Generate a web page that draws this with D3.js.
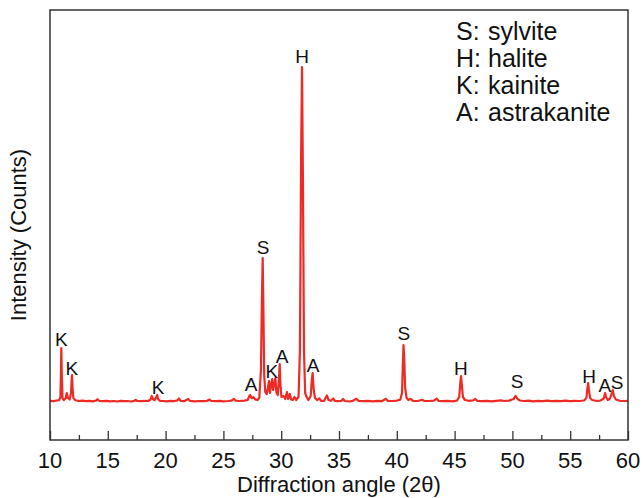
<!DOCTYPE html>
<html>
<head>
<meta charset="utf-8">
<script src="https://cdn.jsdelivr.net/npm/d3@7"></script>
<style>
  body { margin: 0; background: #fff; }
  text { font-family: "Liberation Sans", Arial, sans-serif; fill: #111; }
</style>
</head>
<body>
<div id="chart"></div>
<script>
// XRD trace: [2theta, counts]
const trace = [
  [10.0,392],[10.3,388],[10.6,395],[10.8,398],[10.9,430],[10.95,700],[10.98,920],[11.02,650],[11.08,420],
  [11.2,400],[11.35,415],[11.45,470],[11.55,420],[11.7,405],[11.82,470],[11.87,600],[11.9,650],[11.95,520],
  [12.02,420],[12.2,398],[12.5,390],[12.8,394],[13.1,388],[13.4,392],[13.7,386],[14.0,395],[14.1,408],
  [14.25,392],[14.6,388],[14.9,392],[15.2,386],[15.5,390],[15.8,385],[16.1,392],[16.4,388],[16.7,390],
  [17.0,385],[17.3,392],[17.4,402],[17.55,390],[17.9,388],[18.2,392],[18.5,390],[18.7,405],[18.8,440],
  [18.9,410],[19.05,398],[19.2,430],[19.27,450],[19.35,410],[19.5,392],[19.8,390],[20.1,386],[20.4,392],
  [20.7,388],[21.0,395],[21.15,415],[21.3,392],[21.6,388],[21.95,410],[22.1,392],[22.5,386],[22.9,390],
  [23.2,388],[23.6,392],[23.8,405],[23.95,390],[24.3,388],[24.7,392],[25.0,386],[25.4,390],[25.7,394],
  [25.9,412],[26.05,394],[26.4,390],[26.8,394],[27.1,400],[27.25,440],[27.32,450],[27.45,418],[27.6,428],
  [27.75,405],[27.95,400],[28.1,420],[28.25,700],[28.33,1400],[28.4,1820],[28.46,1300],[28.53,650],
  [28.62,480],[28.75,460],[28.85,520],[28.95,590],[29.02,470],[29.12,540],[29.22,610],[29.3,500],
  [29.4,560],[29.5,620],[29.58,480],[29.7,450],[29.8,600],[29.87,760],[29.93,560],[30.02,430],[30.2,440],
  [30.35,410],[30.5,480],[30.6,410],[30.75,460],[30.85,405],[31.0,400],[31.15,430],[31.3,400],[31.5,430],
  [31.62,900],[31.72,2800],[31.8,3730],[31.88,2600],[31.97,900],[32.07,470],[32.2,430],[32.35,400],
  [32.55,440],[32.65,600],[32.72,670],[32.8,520],[32.92,420],[33.1,400],[33.3,415],[33.45,392],[33.7,390],
  [33.95,445],[34.1,400],[34.3,392],[34.5,415],[34.65,390],[34.9,388],[35.2,392],[35.35,410],[35.5,390],
  [35.9,385],[36.2,392],[36.5,412],[36.7,392],[37.1,388],[37.5,392],[37.9,386],[38.3,392],[38.7,388],
  [39.05,412],[39.2,392],[39.6,390],[40.0,394],[40.3,402],[40.45,470],[40.52,750],[40.58,950],[40.65,800],
  [40.72,520],[40.85,420],[41.0,400],[41.2,412],[41.4,392],[41.8,390],[42.2,402],[42.35,392],[42.8,390],
  [43.2,394],[43.45,414],[43.6,392],[44.0,388],[44.4,392],[44.8,386],[45.2,394],[45.4,430],[45.5,580],
  [45.56,640],[45.62,560],[45.72,430],[45.9,400],[46.2,392],[46.6,396],[46.8,410],[46.95,392],[47.4,388],
  [47.8,392],[48.2,386],[48.6,392],[49.0,396],[49.3,390],[49.7,394],[50.1,410],[50.28,440],[50.45,410],
  [50.65,395],[51.0,390],[51.4,393],[51.8,386],[52.2,392],[52.6,388],[53.0,394],[53.4,388],[53.8,392],
  [54.2,388],[54.6,394],[55.0,388],[55.4,392],[55.8,390],[56.2,395],[56.4,420],[56.5,530],[56.55,570],
  [56.62,500],[56.72,420],[56.9,400],[57.2,392],[57.6,394],[57.9,415],[58.02,470],[58.1,430],[58.25,400],
  [58.45,415],[58.6,470],[58.68,500],[58.78,440],[58.95,405],[59.3,392],[59.7,390],[60.0,392]
];

// peak labels: letter, 2theta, counts (text baseline)
const peakLetters = ["K", "K", "K", "A", "S", "K", "A", "H", "A", "S", "H", "S", "H", "A", "S"];
const peakAngles  = [10.98, 11.9, 19.34, 27.39, 28.43, 29.2, 30.07, 31.8, 32.75, 40.62, 45.55, 50.4, 56.63, 58.0, 59.05];
const peakCounts  = [940, 650, 460, 490, 1860, 620, 770, 3770, 680, 1000, 650, 520, 570, 480, 510];

const legendKeys  = ["S:", "H:", "K:", "A:"];
const legendNames = ["sylvite", "halite", "kainite", "astrakanite"];

const xTicks = [10, 15, 20, 25, 30, 35, 40, 45, 50, 55, 60];

const W = 643, H = 498;
const margin = {top: 10, right: 15, bottom: 58, left: 50};
const iw = W - margin.left - margin.right;
const ih = H - margin.top - margin.bottom;

const svg = d3.select("#chart").append("svg")
    .attr("width", W)
    .attr("height", H);

const g = svg.append("g")
    .attr("transform", "translate(" + margin.left + "," + margin.top + ")");

const x = d3.scaleLinear().domain([10, 60]).range([0, iw]);
const y = d3.scaleLinear().domain([0, 4300]).range([ih, 0]);

// the trace
g.append("path")
    .datum(trace)
    .attr("fill", "none")
    .attr("stroke", "#ee2a24")
    .attr("stroke-width", 2.2)
    .attr("stroke-linejoin", "round")
    .attr("d", d3.line().x(d => x(d[0])).y(d => y(d[1])));

// minor + major ticks pointing inward
const xAxis = d3.axisTop(x).tickValues(d3.range(10, 60.01, 2.5))
    .tickSize(0).tickFormat("");
const ax = g.append("g").attr("transform", "translate(0," + ih + ")").call(xAxis);
ax.select(".domain").remove();
ax.selectAll(".tick line")
    .attr("y2", d => d % 5 === 0 ? -9 : -5)
    .attr("stroke", "#333")
    .attr("stroke-width", 1.3);

g.selectAll(".xlab")
    .data(xTicks)
    .enter().append("text")
    .attr("class", "xlab")
    .attr("x", d => x(d))
    .attr("y", ih + 28)
    .attr("text-anchor", "middle")
    .style("font-size", "22px")
    .text(d => d);

// frame
g.append("rect")
    .attr("width", iw)
    .attr("height", ih)
    .attr("fill", "none")
    .attr("stroke", "#333")
    .attr("stroke-width", 1.5);

// axis titles
svg.append("text")
    .attr("x", margin.left + iw / 2)
    .attr("y", H - 6)
    .attr("text-anchor", "middle")
    .style("font-size", "22px")
    .text("Diffraction angle (2θ)");

svg.append("text")
    .attr("transform", "translate(26," + (margin.top + ih / 2 + 10) + ") rotate(-90)")
    .attr("text-anchor", "middle")
    .style("font-size", "22px")
    .text("Intensity (Counts)");

// peak letters
g.selectAll(".peak")
    .data(peakLetters)
    .enter().append("text")
    .attr("class", "peak")
    .attr("x", (d, i) => x(peakAngles[i]))
    .attr("y", (d, i) => y(peakCounts[i]))
    .attr("text-anchor", "middle")
    .style("font-size", "19px")
    .text(d => d);

// legend
const leg = svg.append("g").attr("transform", "translate(456,40)");
legendKeys.forEach((k, i) => {
    leg.append("text").attr("x", 0).attr("y", i * 27)
        .style("font-size", "25px").text(k);
    leg.append("text").attr("x", 32).attr("y", i * 27)
        .style("font-size", "25px").text(legendNames[i]);
});
</script>
</body>
</html>
